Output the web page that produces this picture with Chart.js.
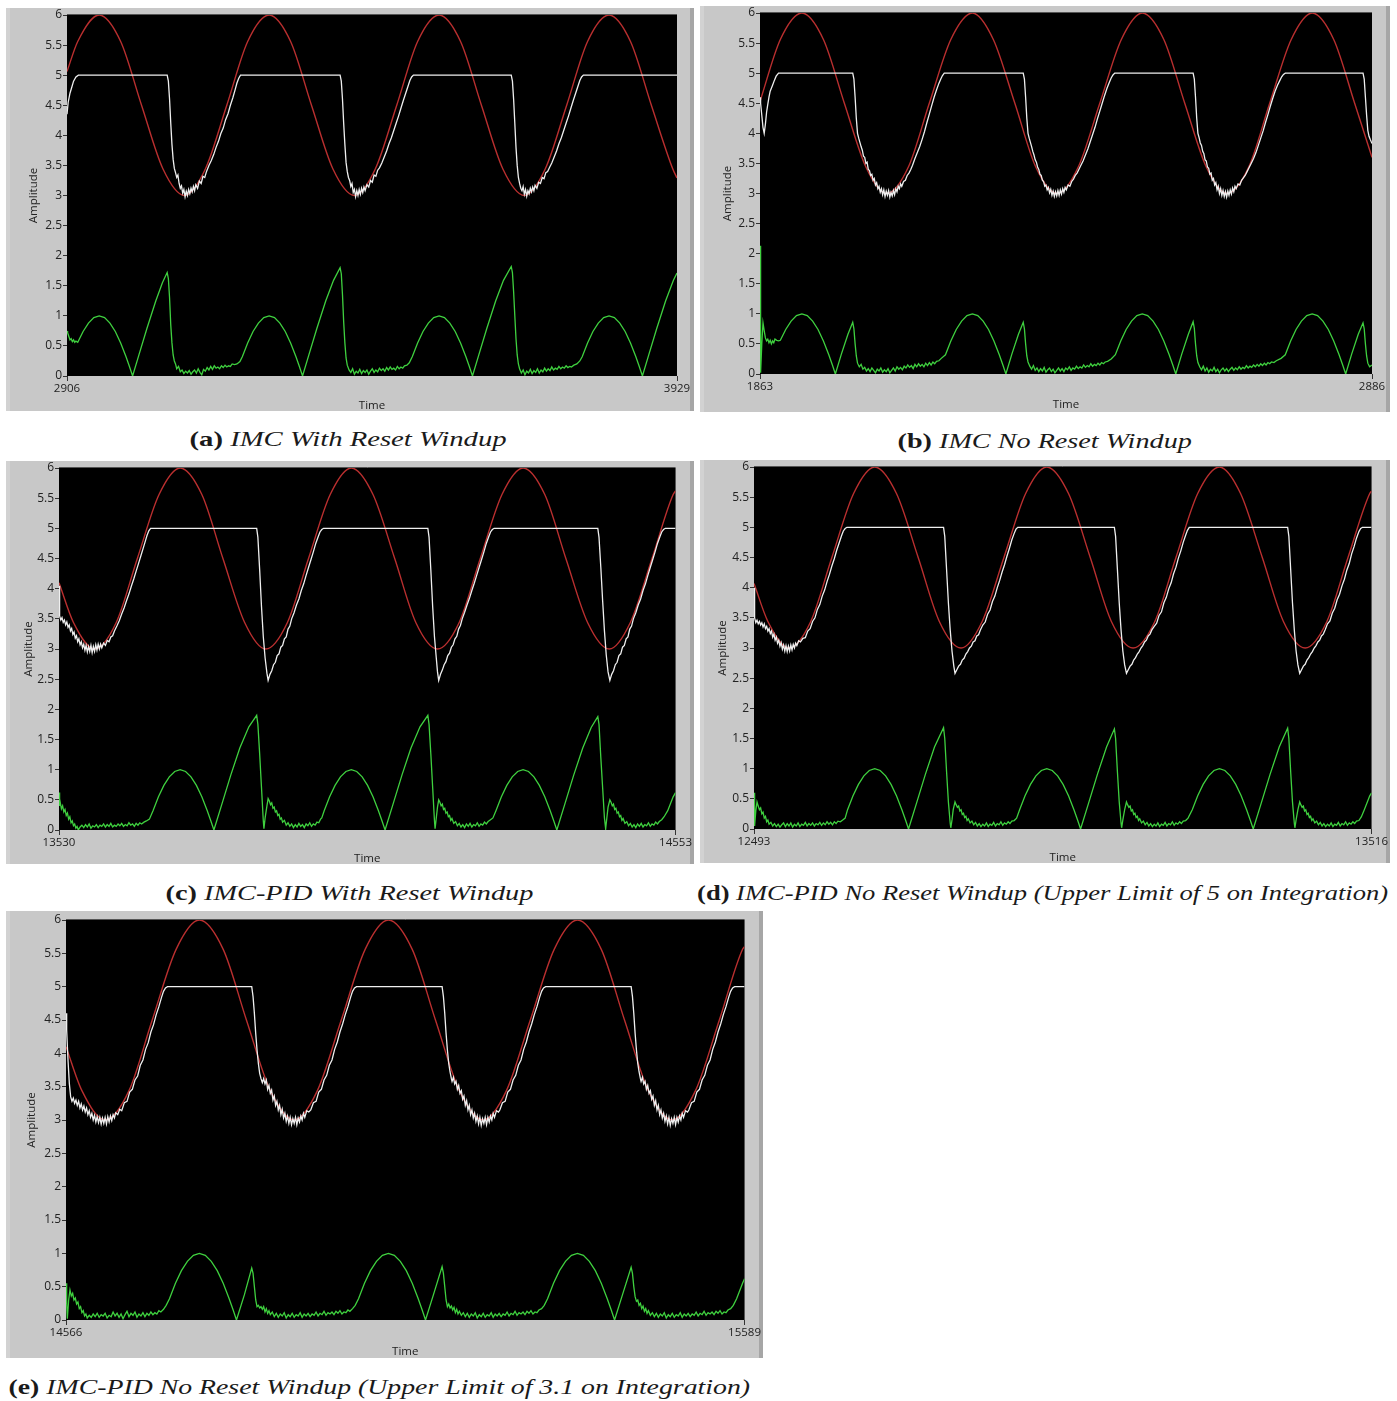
<!DOCTYPE html>
<html>
<head>
<meta charset="utf-8">
<script src="https://cdn.jsdelivr.net/npm/chart.js@4.4.1/dist/chart.umd.min.js"></script>
<style>
  body { margin: 0; background: #fff; width: 1397px; height: 1401px; position: relative; overflow: hidden; }
  .panel { position: absolute; }
  .panel canvas { display: block; }
  .cap { position: absolute; font-family: "Times New Roman", "Liberation Serif", serif; font-size: 21px; color: #1a1a1a; white-space: nowrap; transform-origin: center center; font-weight: 400; }
  .cap b { font-style: normal; font-weight: 700; }
  .cap i { font-style: italic; font-weight: 400; }
</style>
</head>
<body>
<script>
// ---- data: [time, amplitude] ----
const captionTags = ["(a)", "(b)", "(c)", "(d)", "(e)"];
const captionTexts = [
  "IMC With Reset Windup",
  "IMC No Reset Windup",
  "IMC-PID With Reset Windup",
  "IMC-PID No Reset Windup (Upper Limit of 5 on Integration)",
  "IMC-PID No Reset Windup (Upper Limit of 3.1 on Integration)"
];
const timeStart = [2906, 1863, 13530, 12493, 14566];
const timeEnd = [3929, 2886, 14553, 13516, 15589];
const ampMin = 0, ampMax = 6, ampStep = 0.5;

// (a) IMC with reset windup
const redA = [[2906,5.06],[2924,5.56],[2960,6],[2996,5.56],[3031,4.5],[3067,3.44],[3103,3],[3138,3.44],[3174,4.5],[3209,5.56],[3245,6],[3281,5.56],[3316,4.5],[3352,3.44],[3388,3],[3423,3.44],[3459,4.5],[3494,5.56],[3530,6],[3566,5.56],[3601,4.5],[3637,3.44],[3673,3],[3708,3.44],[3744,4.5],[3779,5.56],[3815,6],[3851,5.56],[3886,4.5],[3922,3.44],[3929,3.29]];
const whiteA = [[2906,4.35],[2908,4.55],[2911,4.7],[2914,4.8],[2917,4.9],[2921,4.97],[2925,5],
  [3074,5],[3076,4.9],[3078,4.6],[3080,4.2],[3082,3.85],[3084,3.6],[3086,3.45],[3088,3.38],[3090,3.3],[3092,3.34],[3094,3.2],[3096,3.12],[3098,3.16],[3100,3.04],[3102,3.1],[3104,2.98],[3106,3.07],[3108,3.0],[3110,3.1],[3112,3.03],[3114,3.12],[3116,3.06],[3118,3.15],[3120,3.08],[3122,3.18],[3125,3.12],[3128,3.24],[3131,3.2],[3134,3.32],[3137,3.3],[3140,3.4],[3144,3.5],[3148,3.58],[3152,3.68],[3156,3.8],[3160,3.9],[3164,4.03],[3168,4.12],[3172,4.26],[3176,4.36],[3180,4.5],[3184,4.62],[3188,4.76],[3191,4.87],[3194,4.95],[3197,5],
  [3364,5],[3366,4.9],[3368,4.6],[3370,4.2],[3372,3.85],[3374,3.55],[3376,3.4],[3378,3.3],[3380,3.25],[3382,3.15],[3384,3.2],[3386,3.05],[3388,3.1],[3390,2.98],[3392,3.08],[3394,3.0],[3396,3.1],[3398,3.02],[3400,3.12],[3402,3.05],[3404,3.14],[3406,3.08],[3409,3.18],[3412,3.14],[3415,3.25],[3418,3.22],[3421,3.34],[3424,3.32],[3427,3.42],[3430,3.46],[3434,3.54],[3438,3.64],[3442,3.74],[3446,3.86],[3450,3.96],[3454,4.08],[3458,4.2],[3462,4.32],[3466,4.45],[3470,4.58],[3474,4.7],[3478,4.82],[3481,4.91],[3484,4.97],[3487,5],
  [3651,5],[3653,4.9],[3655,4.6],[3657,4.2],[3659,3.8],[3661,3.5],[3663,3.3],[3665,3.2],[3667,3.12],[3669,3.08],[3671,3.15],[3673,3.02],[3675,3.1],[3677,2.99],[3679,3.08],[3681,3.03],[3683,3.12],[3685,3.06],[3687,3.14],[3689,3.08],[3691,3.17],[3694,3.12],[3697,3.22],[3700,3.2],[3703,3.3],[3706,3.28],[3709,3.38],[3712,3.4],[3715,3.46],[3719,3.54],[3723,3.64],[3727,3.74],[3731,3.86],[3735,3.96],[3739,4.08],[3743,4.2],[3747,4.32],[3751,4.45],[3755,4.58],[3759,4.7],[3763,4.82],[3766,4.91],[3769,4.97],[3772,5],[3929,5]];
const greenA = [[2906,0.75],[2907,0.72],[2909,0.66],[2911,0.6],[2913,0.62],[2915,0.57],[2917,0.6],[2919,0.56],[2921,0.58],[2924,0.56],
  [2933,0.74],[2942,0.88],[2951,0.97],[2960,1.0],[2969,0.97],[2978,0.88],[2987,0.74],[2996,0.55],[3005,0.32],[3011,0.15],[3016,0],
  [3026,0.33],[3040,0.79],[3055,1.25],[3066,1.55],[3074,1.72],[3076,1.62],[3078,1.3],[3080,0.85],[3082,0.55],[3084,0.35],[3086,0.25],[3088,0.2],
  [3090,0.12],[3093,0.16],[3096,0.07],[3099,0.1],[3102,0.04],[3105,0.08],[3108,0.05],[3111,0.09],[3114,0.03],[3117,0.07],[3120,0.1],[3123,0.05],[3126,0.12],[3129,0.06],[3132,0.02],[3135,0.11],[3138,0.08],[3141,0.14],[3144,0.1],[3147,0.16],[3150,0.11],[3153,0.17],[3156,0.13],[3159,0.15],[3162,0.12],[3165,0.17],[3168,0.14],[3171,0.18],[3174,0.15],[3177,0.17],[3180,0.16],[3183,0.2],[3187,0.19],
  [3191,0.2],[3196,0.24],[3200,0.32],[3209,0.55],[3218,0.74],[3227,0.88],[3236,0.97],[3245,1.0],[3254,0.97],[3263,0.88],[3272,0.74],[3281,0.55],[3290,0.32],[3296,0.15],[3301,0],
  [3311,0.33],[3325,0.79],[3340,1.25],[3353,1.59],[3364,1.8],[3366,1.7],[3368,1.35],[3370,0.9],[3372,0.55],[3374,0.3],[3376,0.18],
  [3379,0.1],[3382,0.06],[3385,0.12],[3388,0.03],[3391,0.08],[3394,0.05],[3397,0.11],[3400,0.04],[3403,0.09],[3406,0.06],[3409,0.1],[3412,0.03],[3415,0.08],[3418,0.12],[3421,0.06],[3424,0.1],[3427,0.07],[3430,0.13],[3433,0.09],[3436,0.12],[3439,0.08],[3442,0.14],[3445,0.1],[3448,0.15],[3451,0.11],[3454,0.13],[3457,0.1],[3460,0.16],[3463,0.12],[3466,0.15],[3469,0.13],[3472,0.17],[3476,0.18],
  [3480,0.22],[3485,0.32],[3494,0.55],[3503,0.74],[3512,0.88],[3521,0.97],[3530,1.0],[3539,0.97],[3548,0.88],[3557,0.74],[3566,0.55],[3575,0.32],[3581,0.15],[3586,0],
  [3596,0.33],[3610,0.79],[3625,1.25],[3638,1.59],[3651,1.82],[3653,1.72],[3655,1.4],[3657,1.0],[3659,0.62],[3661,0.35],[3663,0.2],[3665,0.12],
  [3668,0.05],[3671,0.1],[3674,0.02],[3677,0.08],[3680,0.05],[3683,0.11],[3686,0.04],[3689,0.09],[3692,0.06],[3695,0.12],[3698,0.05],[3701,0.1],[3704,0.07],[3707,0.13],[3710,0.08],[3713,0.12],[3716,0.09],[3719,0.15],[3722,0.1],[3725,0.13],[3728,0.11],[3731,0.16],[3734,0.12],[3737,0.15],[3740,0.13],[3743,0.17],[3746,0.14],[3749,0.16],[3752,0.15],[3756,0.18],[3761,0.2],
  [3766,0.25],[3770,0.32],[3779,0.55],[3788,0.74],[3797,0.88],[3806,0.97],[3815,1.0],[3824,0.97],[3833,0.88],[3842,0.74],[3851,0.55],[3860,0.32],[3866,0.15],[3871,0],
  [3881,0.33],[3895,0.79],[3910,1.25],[3923,1.59],[3929,1.71]];

// (b) IMC no reset windup
const redB = [[1863,4.53],[1897,5.56],[1933,6],[1969,5.56],[2004,4.5],[2040,3.44],[2075,3],[2111,3.44],[2146,4.5],[2182,5.56],[2218,6],[2253,5.56],[2289,4.5],[2324,3.44],[2360,3],[2395,3.44],[2431,4.5],[2467,5.56],[2502,6],[2538,5.56],[2573,4.5],[2609,3.44],[2644,3],[2680,3.44],[2715,4.5],[2751,5.56],[2786,6],[2822,5.56],[2857,4.5],[2886,3.6]];
const whiteB = [[1863,4.6],[1864,4.5],[1866,4.3],[1868,4.1],[1870,4.0],[1872,4.15],[1874,4.35],[1876,4.48],[1878,4.6],[1880,4.7],[1882,4.75],[1884,4.8],[1887,4.88],[1890,4.95],[1894,5],
  [2018,5],[2020,4.9],[2022,4.6],[2024,4.25],[2026,4.0],[2028,3.92],[2030,3.85],[2032,3.78],[2034,3.72],[2036,3.62],[2038,3.6],[2040,3.5],[2042,3.52],[2044,3.4],[2046,3.38],[2048,3.3],[2050,3.32],[2052,3.22],[2054,3.25],[2056,3.14],[2058,3.18],[2060,3.08],[2062,3.12],[2064,3.02],[2066,3.08],[2068,2.98],[2070,3.06],[2072,2.95],[2074,3.04],[2076,2.97],[2078,3.05],[2080,2.94],[2082,3.02],[2084,2.96],[2086,3.05],[2088,2.98],[2090,3.08],[2092,3.03],[2094,3.12],[2096,3.08],[2098,3.16],[2100,3.12],[2103,3.2],[2106,3.22],[2109,3.3],[2112,3.34],[2115,3.4],[2118,3.47],[2122,3.58],[2126,3.68],[2130,3.78],[2134,3.9],[2138,4.03],[2142,4.18],[2146,4.32],[2150,4.46],[2154,4.6],[2158,4.72],[2162,4.83],[2165,4.9],[2168,4.96],[2171,5],
  [2303,5],[2305,4.9],[2307,4.6],[2309,4.25],[2311,4.0],[2313,3.92],[2315,3.85],[2317,3.78],[2319,3.7],[2321,3.64],[2323,3.56],[2325,3.52],[2327,3.44],[2329,3.4],[2331,3.32],[2333,3.3],[2335,3.22],[2337,3.2],[2339,3.12],[2341,3.14],[2343,3.06],[2345,3.1],[2347,3.01],[2349,3.07],[2351,2.97],[2353,3.04],[2355,2.95],[2357,3.03],[2359,2.96],[2361,3.05],[2363,2.97],[2365,3.06],[2367,2.99],[2369,3.08],[2371,3.02],[2373,3.1],[2375,3.06],[2378,3.14],[2381,3.12],[2384,3.2],[2387,3.24],[2390,3.3],[2393,3.34],[2396,3.4],[2399,3.46],[2403,3.54],[2407,3.64],[2411,3.74],[2415,3.86],[2419,3.98],[2423,4.1],[2427,4.24],[2431,4.37],[2435,4.5],[2439,4.63],[2443,4.75],[2447,4.85],[2450,4.92],[2453,4.97],[2456,5],
  [2587,5],[2589,4.9],[2591,4.6],[2593,4.25],[2595,4.0],[2597,3.93],[2599,3.84],[2601,3.8],[2603,3.7],[2605,3.66],[2607,3.56],[2609,3.54],[2611,3.44],[2613,3.42],[2615,3.32],[2617,3.34],[2619,3.22],[2621,3.25],[2623,3.14],[2625,3.18],[2627,3.06],[2629,3.12],[2631,3.0],[2633,3.08],[2635,2.97],[2637,3.05],[2639,2.95],[2641,3.03],[2643,2.94],[2645,3.04],[2647,2.97],[2649,3.06],[2651,2.99],[2653,3.09],[2655,3.03],[2657,3.12],[2659,3.08],[2662,3.16],[2665,3.14],[2668,3.22],[2671,3.26],[2674,3.3],[2677,3.36],[2680,3.42],[2684,3.5],[2688,3.58],[2692,3.68],[2696,3.8],[2700,3.92],[2704,4.04],[2708,4.18],[2712,4.31],[2716,4.45],[2720,4.58],[2724,4.7],[2728,4.8],[2732,4.88],[2735,4.94],[2738,4.98],[2741,5],
  [2871,5],[2873,4.9],[2875,4.6],[2877,4.3],[2879,4.05],[2881,3.95],[2883,3.9],[2886,3.83]];
const greenB = [[1863,2.13],[1864,0.02],[1866,0.5],[1868,0.85],[1870,0.72],[1872,0.6],[1874,0.55],[1876,0.58],[1878,0.52],[1880,0.56],[1882,0.5],[1884,0.55],[1886,0.52],[1888,0.58],[1891,0.56],[1894,0.55],
  [1897,0.56],[1906,0.74],[1915,0.88],[1924,0.97],[1933,1.0],[1942,0.97],[1951,0.88],[1960,0.74],[1969,0.55],[1978,0.32],[1984,0.15],[1989,0],
  [1999,0.33],[2010,0.66],[2018,0.86],[2020,0.75],[2022,0.5],[2024,0.3],[2026,0.18],
  [2029,0.12],[2032,0.16],[2035,0.08],[2038,0.11],[2041,0.05],[2044,0.09],[2047,0.04],[2050,0.1],[2053,0.06],[2056,0.02],[2059,0.08],[2062,0.05],[2065,0.1],[2068,0.03],[2071,0.07],[2074,0.04],[2077,0.09],[2080,0.02],[2083,0.06],[2086,0.1],[2089,0.05],[2092,0.12],[2095,0.08],[2098,0.11],[2101,0.07],[2104,0.13],[2107,0.1],[2110,0.15],[2113,0.11],[2116,0.14],[2119,0.09],[2122,0.16],[2125,0.12],[2128,0.17],[2131,0.13],[2134,0.16],[2137,0.12],[2140,0.18],[2143,0.14],[2146,0.19],[2149,0.15],[2152,0.2],[2155,0.17],[2158,0.21],[2162,0.22],
  [2166,0.26],[2173,0.32],[2182,0.55],[2191,0.74],[2200,0.88],[2209,0.97],[2218,1.0],[2227,0.97],[2236,0.88],[2245,0.74],[2254,0.55],[2263,0.32],[2269,0.15],[2274,0],
  [2284,0.33],[2295,0.66],[2303,0.86],[2305,0.75],[2307,0.5],[2309,0.3],[2311,0.2],
  [2314,0.13],[2317,0.08],[2320,0.14],[2323,0.06],[2326,0.1],[2329,0.04],[2332,0.09],[2335,0.05],[2338,0.11],[2341,0.03],[2344,0.07],[2347,0.1],[2350,0.04],[2353,0.08],[2356,0.02],[2359,0.06],[2362,0.1],[2365,0.05],[2368,0.09],[2371,0.04],[2374,0.1],[2377,0.07],[2380,0.12],[2383,0.06],[2386,0.1],[2389,0.08],[2392,0.13],[2395,0.09],[2398,0.12],[2401,0.1],[2404,0.15],[2407,0.11],[2410,0.14],[2413,0.12],[2416,0.17],[2419,0.13],[2422,0.16],[2425,0.14],[2428,0.18],[2431,0.15],[2434,0.19],[2437,0.17],[2440,0.2],[2444,0.21],
  [2450,0.25],[2457,0.32],[2466,0.55],[2475,0.74],[2484,0.88],[2493,0.97],[2502,1.0],[2511,0.97],[2520,0.88],[2529,0.74],[2538,0.55],[2547,0.32],[2553,0.15],[2558,0],
  [2568,0.33],[2579,0.66],[2587,0.87],[2589,0.76],[2591,0.5],[2593,0.3],[2595,0.19],
  [2598,0.12],[2601,0.07],[2604,0.13],[2607,0.05],[2610,0.1],[2613,0.03],[2616,0.08],[2619,0.05],[2622,0.11],[2625,0.04],[2628,0.08],[2631,0.02],[2634,0.07],[2637,0.1],[2640,0.05],[2643,0.09],[2646,0.04],[2649,0.08],[2652,0.11],[2655,0.06],[2658,0.1],[2661,0.07],[2664,0.12],[2667,0.08],[2670,0.11],[2673,0.09],[2676,0.14],[2679,0.1],[2682,0.13],[2685,0.11],[2688,0.15],[2691,0.12],[2694,0.16],[2697,0.13],[2700,0.17],[2703,0.14],[2706,0.18],[2709,0.15],[2712,0.19],[2715,0.17],[2718,0.2],[2722,0.19],[2726,0.22],
  [2734,0.26],[2741,0.32],[2750,0.55],[2759,0.74],[2768,0.88],[2777,0.97],[2786,1.0],[2795,0.97],[2804,0.88],[2813,0.74],[2822,0.55],[2831,0.32],[2837,0.15],[2842,0],
  [2852,0.33],[2863,0.66],[2871,0.85],[2873,0.75],[2875,0.5],[2877,0.3],[2879,0.18],[2882,0.12],[2886,0.15]];

// (c) IMC-PID with reset windup
const redC = [[13530,4.1],[13554,3.44],[13589,3],[13625,3.44],[13660,4.5],[13696,5.56],[13731,6],[13767,5.56],[13802,4.5],[13838,3.44],[13873,3],[13909,3.44],[13944,4.5],[13980,5.56],[14015,6],[14051,5.56],[14087,4.5],[14122,3.44],[14158,3],[14194,3.44],[14229,4.5],[14265,5.56],[14300,6],[14336,5.56],[14371,4.5],[14407,3.44],[14443,3],[14478,3.44],[14514,4.5],[14549,5.56],[14553,5.62]];
const whiteC = [[13530,4.05],[13531,3.55],[13533,3.48],[13535,3.52],[13537,3.44],[13539,3.48],[13541,3.4],[13543,3.45],[13545,3.36],[13547,3.4],[13549,3.3],[13551,3.34],[13553,3.24],[13555,3.28],[13557,3.18],[13559,3.22],[13561,3.12],[13563,3.17],[13565,3.07],[13567,3.12],[13569,3.02],[13571,3.08],[13573,2.98],[13575,3.06],[13577,2.95],[13579,3.04],[13581,2.96],[13583,3.06],[13585,2.94],[13587,3.04],[13589,2.96],[13591,3.07],[13593,2.98],[13595,3.08],[13597,3.0],[13599,3.08],[13601,3.02],[13604,3.1],[13607,3.06],[13610,3.14],[13613,3.12],[13616,3.2],[13619,3.22],[13622,3.3],[13626,3.38],[13630,3.47],[13634,3.58],[13638,3.68],[13642,3.8],[13646,3.91],[13650,4.04],[13654,4.16],[13658,4.29],[13662,4.42],[13666,4.55],[13670,4.68],[13673,4.78],[13676,4.88],[13679,4.96],[13682,5],
  [13858,5],[13860,4.85],[13863,4.3],[13866,3.7],[13869,3.2],[13872,2.85],[13875,2.6],[13877,2.48],[13880,2.58],[13883,2.64],[13886,2.74],[13889,2.78],[13892,2.89],[13895,2.92],[13898,3.03],[13901,3.06],[13904,3.17],[13907,3.2],[13910,3.33],[13913,3.38],[13916,3.5],[13920,3.6],[13924,3.73],[13928,3.83],[13932,3.97],[13936,4.08],[13940,4.22],[13944,4.35],[13948,4.48],[13952,4.61],[13956,4.75],[13960,4.86],[13963,4.94],[13966,4.98],[13969,5],
  [14142,5],[14144,4.85],[14147,4.3],[14150,3.7],[14153,3.2],[14156,2.85],[14158,2.62],[14160,2.48],[14163,2.58],[14166,2.65],[14169,2.74],[14172,2.79],[14175,2.89],[14178,2.93],[14181,3.03],[14184,3.07],[14187,3.17],[14190,3.21],[14193,3.33],[14196,3.39],[14199,3.5],[14203,3.61],[14207,3.73],[14211,3.84],[14215,3.97],[14219,4.09],[14223,4.22],[14227,4.35],[14231,4.48],[14235,4.61],[14239,4.75],[14243,4.86],[14246,4.94],[14249,4.98],[14252,5],
  [14424,5],[14426,4.85],[14429,4.35],[14432,3.8],[14435,3.3],[14438,2.9],[14441,2.62],[14444,2.48],[14447,2.58],[14450,2.64],[14453,2.74],[14456,2.78],[14459,2.89],[14462,2.92],[14465,3.03],[14468,3.06],[14471,3.17],[14474,3.2],[14477,3.33],[14480,3.38],[14483,3.5],[14487,3.6],[14491,3.73],[14495,3.83],[14499,3.97],[14503,4.08],[14507,4.22],[14511,4.35],[14515,4.48],[14519,4.61],[14523,4.75],[14527,4.86],[14530,4.94],[14533,4.98],[14536,5],[14553,5]];
const greenC = [[13530,0.62],[13531,0.4],[13532,0.46],[13534,0.35],[13536,0.4],[13538,0.3],[13540,0.34],[13542,0.24],[13544,0.28],[13546,0.18],[13548,0.22],[13550,0.12],[13552,0.15],[13554,0.07],[13556,0.1],[13558,0.03],[13560,0.06],[13562,0.0],
  [13565,0.05],[13568,0.08],[13571,0.04],[13574,0.09],[13577,0.05],[13580,0.1],[13583,0.03],[13586,0.07],[13589,0.05],[13592,0.09],[13595,0.04],[13598,0.08],[13601,0.06],[13604,0.1],[13607,0.05],[13610,0.09],[13613,0.06],[13616,0.11],[13619,0.05],[13622,0.08],[13625,0.06],[13628,0.1],[13631,0.07],[13634,0.11],[13637,0.06],[13640,0.09],[13643,0.07],[13646,0.12],[13649,0.08],[13652,0.1],[13655,0.06],[13658,0.11],[13661,0.08],[13664,0.12],[13667,0.1],[13671,0.13],[13675,0.15],
  [13680,0.18],[13686,0.32],[13695,0.55],[13704,0.74],[13713,0.88],[13722,0.97],[13731,1.0],[13740,0.97],[13749,0.88],[13758,0.74],[13767,0.55],[13776,0.32],[13782,0.15],[13787,0],
  [13800,0.42],[13815,0.91],[13830,1.36],[13845,1.71],[13858,1.9],[13860,1.75],[13863,1.25],[13866,0.7],[13869,0.15],[13870,0.02],[13872,0.2],[13875,0.4],[13877,0.52],[13879,0.48],[13881,0.42],[13883,0.45],[13885,0.36],[13887,0.38],[13889,0.3],[13891,0.32],[13893,0.24],[13895,0.26],[13897,0.18],[13899,0.2],[13901,0.13],[13904,0.16],[13907,0.08],[13910,0.12],[13913,0.06],[13916,0.1],[13919,0.04],[13922,0.09],[13925,0.05],[13928,0.11],[13931,0.06],[13934,0.09],[13937,0.04],[13940,0.1],[13943,0.07],[13946,0.12],[13949,0.06],[13952,0.1],[13955,0.08],[13958,0.13],[13961,0.12],[13964,0.18],
  [13966,0.2],[13970,0.32],[13979,0.55],[13988,0.74],[13997,0.88],[14006,0.97],[14015,1.0],[14024,0.97],[14033,0.88],[14042,0.74],[14051,0.55],[14060,0.32],[14066,0.15],[14071,0],
  [14084,0.42],[14099,0.91],[14114,1.36],[14129,1.71],[14142,1.9],[14144,1.75],[14147,1.25],[14150,0.7],[14153,0.15],[14154,0.02],[14156,0.2],[14158,0.38],[14160,0.5],[14162,0.46],[14164,0.4],[14166,0.43],[14168,0.34],[14170,0.36],[14172,0.28],[14174,0.3],[14176,0.22],[14178,0.24],[14180,0.16],[14182,0.19],[14185,0.11],[14188,0.14],[14191,0.07],[14194,0.11],[14197,0.05],[14200,0.09],[14203,0.04],[14206,0.1],[14209,0.06],[14212,0.11],[14215,0.05],[14218,0.09],[14221,0.07],[14224,0.12],[14227,0.06],[14230,0.1],[14233,0.08],[14236,0.13],[14239,0.1],[14242,0.14],[14246,0.17],
  [14250,0.2],[14255,0.32],[14264,0.55],[14273,0.74],[14282,0.88],[14291,0.97],[14300,1.0],[14309,0.97],[14318,0.88],[14327,0.74],[14336,0.55],[14345,0.32],[14351,0.15],[14356,0],
  [14369,0.42],[14384,0.91],[14399,1.36],[14413,1.7],[14424,1.88],[14426,1.75],[14429,1.2],[14432,0.7],[14435,0.2],[14437,0.02],[14439,0.2],[14441,0.38],[14444,0.5],[14446,0.46],[14448,0.4],[14450,0.43],[14452,0.34],[14454,0.36],[14456,0.28],[14458,0.3],[14460,0.22],[14462,0.24],[14464,0.16],[14466,0.19],[14469,0.11],[14472,0.14],[14475,0.07],[14478,0.11],[14481,0.05],[14484,0.09],[14487,0.04],[14490,0.1],[14493,0.06],[14496,0.11],[14499,0.05],[14502,0.09],[14505,0.07],[14508,0.12],[14511,0.06],[14514,0.1],[14517,0.08],[14520,0.13],[14523,0.1],[14526,0.14],[14530,0.17],
  [14534,0.22],[14540,0.32],[14549,0.55],[14553,0.62]];

// (d) IMC-PID, upper limit of 5 on integration
const redD = [[12493,4.07],[12516,3.44],[12551,3],[12587,3.44],[12622,4.5],[12658,5.56],[12693,6],[12729,5.56],[12765,4.5],[12800,3.44],[12836,3],[12871,3.44],[12907,4.5],[12943,5.56],[12978,6],[13014,5.56],[13050,4.5],[13085,3.44],[13121,3],[13157,3.44],[13192,4.5],[13228,5.56],[13264,6],[13299,5.56],[13335,4.5],[13370,3.44],[13406,3],[13442,3.44],[13477,4.5],[13513,5.56],[13516,5.6]];
const whiteD = [[12493,4.0],[12494,3.5],[12496,3.42],[12498,3.46],[12500,3.4],[12502,3.44],[12504,3.38],[12506,3.42],[12508,3.35],[12510,3.4],[12512,3.32],[12514,3.36],[12516,3.28],[12518,3.32],[12520,3.24],[12522,3.28],[12524,3.18],[12526,3.23],[12528,3.13],[12530,3.18],[12532,3.08],[12534,3.13],[12536,3.03],[12538,3.09],[12540,2.98],[12542,3.05],[12544,2.95],[12546,3.04],[12548,2.94],[12550,3.03],[12552,2.95],[12554,3.05],[12556,2.97],[12558,3.06],[12560,3.0],[12562,3.08],[12564,3.04],[12567,3.12],[12570,3.1],
  [12574,3.16],[12578,3.17],[12582,3.28],[12586,3.32],[12590,3.44],[12594,3.5],[12598,3.64],[12602,3.72],[12606,3.86],[12610,3.96],[12614,4.1],[12618,4.22],[12622,4.36],[12626,4.48],[12630,4.62],[12634,4.74],[12638,4.86],[12641,4.94],[12644,4.98],[12647,5],
  [12807,5],[12809,4.85],[12812,4.3],[12815,3.75],[12818,3.3],[12821,2.95],[12824,2.7],[12826,2.58],[12829,2.64],[12832,2.7],[12835,2.73],[12838,2.8],[12841,2.83],[12844,2.9],[12847,2.94],[12850,3.0],[12853,3.03],[12856,3.1],[12859,3.12],[12862,3.2],[12865,3.22],[12868,3.3],
  [12872,3.38],[12876,3.43],[12880,3.56],[12884,3.63],[12888,3.77],[12892,3.86],[12896,4.0],[12900,4.12],[12904,4.26],[12908,4.38],[12912,4.52],[12916,4.65],[12920,4.79],[12924,4.9],[12927,4.97],[12930,5],
  [13090,5],[13092,4.85],[13095,4.3],[13098,3.75],[13101,3.3],[13104,2.95],[13107,2.72],[13110,2.58],[13113,2.64],[13116,2.7],[13119,2.73],[13122,2.8],[13125,2.84],[13128,2.9],[13131,2.94],[13134,3.0],[13137,3.04],[13140,3.1],[13143,3.13],[13146,3.2],[13149,3.23],[13152,3.3],
  [13156,3.36],[13160,3.41],[13164,3.54],[13168,3.6],[13172,3.75],[13176,3.84],[13180,3.98],[13184,4.08],[13188,4.23],[13192,4.34],[13196,4.49],[13200,4.61],[13204,4.75],[13208,4.87],[13211,4.95],[13214,5],
  [13377,5],[13379,4.85],[13382,4.3],[13385,3.75],[13388,3.3],[13391,2.95],[13394,2.72],[13397,2.58],[13400,2.64],[13403,2.7],[13406,2.73],[13409,2.8],[13412,2.84],[13415,2.9],[13418,2.94],[13421,3.0],[13424,3.04],[13427,3.1],[13430,3.13],[13433,3.2],[13436,3.23],[13439,3.3],
  [13443,3.4],[13447,3.45],[13451,3.58],[13455,3.66],[13459,3.8],[13463,3.89],[13467,4.03],[13471,4.14],[13475,4.29],[13479,4.4],[13483,4.56],[13487,4.68],[13491,4.82],[13495,4.93],[13498,4.98],[13501,5],[13516,5]];
const greenD = [[12493,0.6],[12494,0.05],[12496,0.3],[12498,0.45],[12500,0.38],[12502,0.32],[12504,0.35],[12506,0.25],[12508,0.28],[12510,0.18],[12512,0.21],[12514,0.12],[12516,0.15],[12518,0.08],[12521,0.11],[12524,0.05],[12527,0.09],
  [12530,0.04],[12533,0.08],[12536,0.03],[12539,0.07],[12542,0.1],[12545,0.04],[12548,0.09],[12551,0.05],[12554,0.1],[12557,0.03],[12560,0.08],[12563,0.05],[12566,0.1],[12569,0.04],[12572,0.08],[12575,0.06],[12578,0.11],[12581,0.05],[12584,0.09],[12587,0.06],[12590,0.1],[12593,0.05],[12596,0.09],[12599,0.07],[12602,0.11],[12605,0.06],[12608,0.1],[12611,0.07],[12614,0.12],[12617,0.08],[12620,0.11],[12623,0.07],[12626,0.12],[12629,0.09],[12632,0.13],[12636,0.12],[12640,0.15],[12644,0.18],
  [12648,0.32],[12657,0.55],[12666,0.74],[12675,0.88],[12684,0.97],[12693,1.0],[12702,0.97],[12711,0.88],[12720,0.74],[12729,0.55],[12738,0.32],[12744,0.15],[12749,0],
  [12762,0.42],[12777,0.91],[12792,1.36],[12807,1.68],[12809,1.5],[12812,0.95],[12815,0.45],[12818,0.1],[12819,0.02],[12821,0.15],[12823,0.32],[12826,0.45],[12828,0.4],[12830,0.36],[12832,0.38],[12834,0.3],[12836,0.32],[12838,0.24],[12840,0.26],[12842,0.19],[12844,0.21],[12846,0.14],[12848,0.17],[12851,0.1],[12854,0.13],[12857,0.07],[12860,0.11],[12863,0.05],[12866,0.09],[12869,0.04],[12872,0.08],[12875,0.05],[12878,0.1],[12881,0.04],[12884,0.08],[12887,0.06],[12890,0.11],[12893,0.05],[12896,0.09],[12899,0.07],[12902,0.12],[12905,0.06],[12908,0.1],[12911,0.08],[12914,0.12],[12917,0.09],[12920,0.13],[12924,0.14],[12928,0.18],
  [12933,0.32],[12942,0.55],[12951,0.74],[12960,0.88],[12969,0.97],[12978,1.0],[12987,0.97],[12996,0.88],[13005,0.74],[13014,0.55],[13023,0.32],[13029,0.15],[13034,0],
  [13047,0.42],[13062,0.91],[13077,1.36],[13090,1.66],[13092,1.5],[13095,0.95],[13098,0.45],[13101,0.1],[13102,0.02],[13104,0.15],[13107,0.32],[13110,0.45],[13112,0.4],[13114,0.36],[13116,0.38],[13118,0.3],[13120,0.32],[13122,0.24],[13124,0.26],[13126,0.19],[13128,0.21],[13130,0.14],[13132,0.17],[13135,0.1],[13138,0.13],[13141,0.07],[13144,0.11],[13147,0.05],[13150,0.09],[13153,0.04],[13156,0.08],[13159,0.05],[13162,0.1],[13165,0.04],[13168,0.08],[13171,0.06],[13174,0.11],[13177,0.05],[13180,0.09],[13183,0.07],[13186,0.12],[13189,0.06],[13192,0.1],[13195,0.08],[13198,0.12],[13201,0.09],[13204,0.13],[13208,0.14],[13212,0.18],
  [13219,0.32],[13228,0.55],[13237,0.74],[13246,0.88],[13255,0.97],[13264,1.0],[13273,0.97],[13282,0.88],[13291,0.74],[13300,0.55],[13309,0.32],[13315,0.15],[13320,0],
  [13333,0.42],[13348,0.91],[13363,1.36],[13377,1.67],[13379,1.5],[13382,0.95],[13385,0.45],[13388,0.1],[13389,0.02],[13391,0.15],[13394,0.32],[13397,0.45],[13399,0.4],[13401,0.36],[13403,0.38],[13405,0.3],[13407,0.32],[13409,0.24],[13411,0.26],[13413,0.19],[13415,0.21],[13417,0.14],[13419,0.17],[13422,0.1],[13425,0.13],[13428,0.07],[13431,0.11],[13434,0.05],[13437,0.09],[13440,0.04],[13443,0.08],[13446,0.05],[13449,0.1],[13452,0.04],[13455,0.08],[13458,0.06],[13461,0.11],[13464,0.05],[13467,0.09],[13470,0.07],[13473,0.12],[13476,0.06],[13479,0.1],[13482,0.08],[13485,0.12],[13488,0.09],[13491,0.13],[13495,0.14],[13499,0.2],
  [13504,0.32],[13513,0.55],[13516,0.6]];

// (e) IMC-PID, upper limit of 3.1 on integration
const redE = [[14566,4.1],[14590,3.44],[14625,3],[14661,3.44],[14696,4.5],[14732,5.56],[14767,6],[14803,5.56],[14838,4.5],[14874,3.44],[14910,3],[14945,3.44],[14981,4.5],[15017,5.56],[15052,6],[15088,5.56],[15123,4.5],[15159,3.44],[15195,3],[15230,3.44],[15266,4.5],[15302,5.56],[15337,6],[15373,5.56],[15408,4.5],[15444,3.44],[15480,3],[15515,3.44],[15551,4.5],[15586,5.56],[15589,5.6]];
const whiteE = [[14566,4.6],[14567,4.35],[14569,3.9],[14571,3.55],[14573,3.35],[14575,3.28],[14577,3.33],[14579,3.25],[14581,3.3],[14583,3.22],[14585,3.28],[14587,3.18],[14589,3.24],[14591,3.15],[14593,3.21],[14595,3.12],[14597,3.18],[14599,3.08],[14601,3.14],[14603,3.04],[14605,3.1],[14607,3.0],[14609,3.07],[14611,2.97],[14613,3.05],[14615,2.96],[14617,3.04],[14619,2.94],[14621,3.03],[14623,2.95],[14625,3.04],[14627,2.94],[14629,3.05],[14631,2.97],[14633,3.06],[14635,2.99],[14637,3.08],[14639,3.03],[14641,3.11],[14644,3.08],[14647,3.16],
  [14650,3.14],[14654,3.26],[14658,3.28],[14662,3.42],[14666,3.46],[14670,3.6],[14674,3.66],[14678,3.82],[14682,3.9],[14686,4.06],[14690,4.16],[14694,4.32],[14698,4.43],[14702,4.58],[14706,4.7],[14710,4.84],[14713,4.93],[14716,4.98],[14719,5],
  [14846,5],[14848,4.85],[14850,4.6],[14852,4.3],[14854,4.05],[14856,3.85],[14858,3.7],[14860,3.62],[14862,3.56],[14864,3.62],[14866,3.54],[14868,3.6],[14870,3.46],[14872,3.52],[14874,3.4],[14876,3.45],[14878,3.3],[14880,3.36],[14882,3.22],[14884,3.28],[14886,3.15],[14888,3.22],[14890,3.08],[14892,3.16],[14894,3.03],[14896,3.1],[14898,2.98],[14900,3.06],[14902,2.95],[14904,3.04],[14906,2.93],[14908,3.02],[14910,2.95],[14912,3.04],[14914,2.93],[14916,3.03],[14918,2.97],[14920,3.06],[14922,3.0],[14924,3.1],[14926,3.04],[14929,3.14],[14932,3.12],
  [14935,3.15],[14939,3.26],[14943,3.28],[14947,3.42],[14951,3.46],[14955,3.6],[14959,3.67],[14963,3.82],[14967,3.9],[14971,4.06],[14975,4.17],[14979,4.32],[14983,4.44],[14987,4.58],[14991,4.7],[14995,4.84],[14998,4.93],[15001,4.98],[15004,5],
  [15133,5],[15135,4.85],[15137,4.6],[15139,4.3],[15141,4.05],[15143,3.85],[15145,3.72],[15147,3.62],[15148,3.58],[15150,3.64],[15152,3.54],[15154,3.58],[15156,3.46],[15158,3.52],[15160,3.4],[15162,3.44],[15164,3.31],[15166,3.36],[15168,3.22],[15170,3.29],[15172,3.15],[15174,3.22],[15176,3.08],[15178,3.15],[15180,3.03],[15182,3.1],[15184,2.98],[15186,3.06],[15188,2.94],[15190,3.04],[15192,2.92],[15194,3.02],[15196,2.95],[15198,3.04],[15200,2.93],[15202,3.04],[15204,2.97],[15206,3.06],[15208,3.0],[15210,3.1],[15212,3.04],[15215,3.14],[15218,3.12],
  [15220,3.15],[15224,3.26],[15228,3.28],[15232,3.42],[15236,3.46],[15240,3.6],[15244,3.67],[15248,3.82],[15252,3.9],[15256,4.06],[15260,4.17],[15264,4.32],[15268,4.44],[15272,4.58],[15276,4.7],[15280,4.84],[15283,4.93],[15286,4.98],[15289,5],
  [15418,5],[15420,4.85],[15422,4.6],[15424,4.3],[15426,4.05],[15428,3.85],[15430,3.72],[15432,3.62],[15433,3.58],[15435,3.64],[15437,3.54],[15439,3.58],[15441,3.46],[15443,3.52],[15445,3.4],[15447,3.44],[15449,3.31],[15451,3.36],[15453,3.22],[15455,3.29],[15457,3.15],[15459,3.22],[15461,3.08],[15463,3.15],[15465,3.03],[15467,3.1],[15469,2.98],[15471,3.06],[15473,2.94],[15475,3.04],[15477,2.92],[15479,3.02],[15481,2.95],[15483,3.04],[15485,2.93],[15487,3.04],[15489,2.97],[15491,3.06],[15493,3.0],[15495,3.1],[15497,3.04],[15500,3.14],[15503,3.12],
  [15505,3.15],[15509,3.26],[15513,3.28],[15517,3.42],[15521,3.46],[15525,3.6],[15529,3.67],[15533,3.82],[15537,3.9],[15541,4.06],[15545,4.17],[15549,4.32],[15553,4.44],[15557,4.58],[15561,4.7],[15565,4.84],[15568,4.93],[15571,4.98],[15574,5],[15589,5]];
const greenE = [[14566,0.55],[14567,0.25],[14568,0.02],[14570,0.3],[14572,0.45],[14574,0.36],[14576,0.4],[14578,0.3],[14580,0.33],[14582,0.24],[14584,0.27],[14586,0.17],[14588,0.2],[14590,0.11],[14592,0.14],[14594,0.06],[14596,0.09],[14598,0.03],
  [14601,0.07],[14604,0.04],[14607,0.09],[14610,0.05],[14613,0.1],[14616,0.04],[14619,0.08],[14622,0.06],[14625,0.1],[14628,0.03],[14631,0.07],[14634,0.05],[14637,0.12],[14640,0.06],[14643,0.1],[14646,0.04],[14649,0.09],[14652,0.02],[14655,0.08],[14658,0.13],[14661,0.05],[14664,0.1],[14667,0.07],[14670,0.12],[14673,0.04],[14676,0.09],[14679,0.06],[14682,0.11],[14685,0.05],[14688,0.1],[14691,0.07],[14694,0.12],[14697,0.08],[14700,0.11],[14703,0.09],[14706,0.14],[14709,0.12],[14713,0.16],
  [14717,0.22],[14722,0.32],[14731,0.55],[14740,0.74],[14749,0.88],[14758,0.97],[14767,1.0],[14776,0.97],[14785,0.88],[14794,0.74],[14803,0.55],[14812,0.32],[14818,0.15],[14823,0],
  [14835,0.38],[14846,0.78],[14848,0.7],[14850,0.5],[14852,0.3],[14854,0.2],[14856,0.22],[14858,0.18],[14860,0.2],
  [14862,0.16],[14864,0.2],[14866,0.12],[14868,0.17],[14870,0.1],[14872,0.14],[14874,0.08],[14877,0.12],[14880,0.05],[14883,0.1],[14886,0.04],[14889,0.09],[14892,0.06],[14895,0.11],[14898,0.03],[14901,0.08],[14904,0.05],[14907,0.1],[14910,0.04],[14913,0.08],[14916,0.06],[14919,0.11],[14922,0.04],[14925,0.09],[14928,0.06],[14931,0.1],[14934,0.05],[14937,0.09],[14940,0.07],[14943,0.12],[14946,0.06],[14949,0.1],[14952,0.08],[14955,0.13],[14958,0.07],[14961,0.11],[14964,0.09],[14967,0.12],[14970,0.08],[14973,0.13],[14976,0.1],[14979,0.14],[14982,0.09],[14985,0.12],[14988,0.11],[14991,0.15],[14994,0.13],[14998,0.17],
  [15002,0.22],[15007,0.32],[15016,0.55],[15025,0.74],[15034,0.88],[15043,0.97],[15052,1.0],[15061,0.97],[15070,0.88],[15079,0.74],[15088,0.55],[15097,0.32],[15103,0.15],[15108,0],
  [15120,0.38],[15133,0.8],[15135,0.7],[15137,0.5],[15139,0.3],[15141,0.2],[15143,0.24],[15145,0.18],[15147,0.21],
  [15149,0.15],[15151,0.19],[15153,0.11],[15155,0.16],[15157,0.09],[15159,0.13],[15162,0.07],[15165,0.11],[15168,0.05],[15171,0.1],[15174,0.04],[15177,0.09],[15180,0.06],[15183,0.11],[15186,0.03],[15189,0.08],[15192,0.05],[15195,0.1],[15198,0.04],[15201,0.08],[15204,0.06],[15207,0.11],[15210,0.04],[15213,0.09],[15216,0.06],[15219,0.1],[15222,0.05],[15225,0.09],[15228,0.07],[15231,0.12],[15234,0.06],[15237,0.1],[15240,0.08],[15243,0.13],[15246,0.07],[15249,0.11],[15252,0.09],[15255,0.12],[15258,0.08],[15261,0.13],[15264,0.1],[15267,0.14],[15270,0.09],[15273,0.12],[15276,0.11],[15279,0.15],[15283,0.17],
  [15287,0.22],[15292,0.32],[15301,0.55],[15310,0.74],[15319,0.88],[15328,0.97],[15337,1.0],[15346,0.97],[15355,0.88],[15364,0.74],[15373,0.55],[15382,0.32],[15388,0.15],[15393,0],
  [15405,0.38],[15418,0.79],[15420,0.7],[15422,0.5],[15424,0.35],[15426,0.28],[15428,0.3],[15430,0.22],[15432,0.25],
  [15434,0.17],[15436,0.21],[15438,0.13],[15440,0.17],[15442,0.1],[15444,0.14],[15447,0.07],[15450,0.11],[15453,0.05],[15456,0.1],[15459,0.04],[15462,0.09],[15465,0.06],[15468,0.11],[15471,0.03],[15474,0.08],[15477,0.05],[15480,0.1],[15483,0.04],[15486,0.08],[15489,0.06],[15492,0.11],[15495,0.04],[15498,0.09],[15501,0.06],[15504,0.1],[15507,0.05],[15510,0.09],[15513,0.07],[15516,0.12],[15519,0.06],[15522,0.1],[15525,0.08],[15528,0.13],[15531,0.07],[15534,0.11],[15537,0.09],[15540,0.12],[15543,0.08],[15546,0.13],[15549,0.1],[15552,0.14],[15555,0.09],[15558,0.12],[15561,0.11],[15564,0.15],[15568,0.17],
  [15572,0.22],[15577,0.32],[15586,0.55],[15589,0.62]];

const redSeries = [redA, redB, redC, redD, redE];
const whiteSeries = [whiteA, whiteB, whiteC, whiteD, whiteE];
const greenSeries = [greenA, greenB, greenC, greenD, greenE];

// ---- layout (page pixels) ----
const frames = [
  { left: 6,   top: 8,   w: 688, h: 403, pl: 61, pt: 6, pr: 17, pb: 35, ampX: 22, timeB: 0 },
  { left: 700, top: 6,   w: 690, h: 406, pl: 60, pt: 5, pr: 18, pb: 38, ampX: 22, timeB: 1.5 },
  { left: 6,   top: 461, w: 688, h: 403, pl: 53, pt: 6, pr: 18, pb: 34, ampX: 17, timeB: 0 },
  { left: 700, top: 460, w: 690, h: 403, pl: 54, pt: 6, pr: 18, pb: 34, ampX: 17, timeB: 0 },
  { left: 6,   top: 911, w: 757, h: 447, pl: 60, pt: 9, pr: 15, pb: 38, ampX: 20, timeB: 0.5 }
];
const capPos = [
  { cx: 348, cy: 439, w: 317 },
  { cx: 1044, cy: 441, w: 294 },
  { cx: 349, cy: 893, w: 368 },
  { cx: 1042, cy: 893, w: 691 },
  { cx: 379, cy: 1387, w: 742 }
];

const uiFont = "'Open Sans', 'DejaVu Sans', sans-serif";

// gray LabVIEW frame with black plot area
const framePlugin = {
  id: "lvFrame",
  beforeDraw(chart) {
    const { ctx, width, height, chartArea: a } = chart;
    ctx.save();
    ctx.fillStyle = "#c8c8c8";
    ctx.fillRect(0, 0, width, height);
    ctx.fillStyle = "#d2d2d2";
    ctx.fillRect(0, 0, 4, height);
    ctx.fillStyle = "#a6a6a6";
    ctx.fillRect(width - 4, 0, 4, height);
    ctx.fillStyle = "#000";
    ctx.fillRect(a.left, a.top, a.right - a.left, a.bottom - a.top);
    ctx.strokeStyle = "#555";
    ctx.lineWidth = 1;
    ctx.beginPath();
    ctx.moveTo(a.left, a.top - 0.5);
    ctx.lineTo(a.right, a.top - 0.5);
    ctx.stroke();
    ctx.restore();
  }
};

function toPoints(arr) {
  return arr.map(([x, y]) => ({ x, y }));
}

frames.forEach((f, i) => {
  const box = document.createElement("div");
  box.className = "panel";
  box.style.left = f.left + "px";
  box.style.top = f.top + "px";
  const cv = document.createElement("canvas");
  cv.width = f.w;
  cv.height = f.h;
  cv.style.width = f.w + "px";
  cv.style.height = f.h + "px";
  box.appendChild(cv);
  document.body.appendChild(box);

  const t0 = timeStart[i], t1 = timeEnd[i];
  new Chart(cv, {
    type: "line",
    data: {
      datasets: [
        { data: toPoints(whiteSeries[i]), borderColor: "#efefef", borderWidth: 1.3, pointRadius: 0, tension: 0 },
        { data: toPoints(redSeries[i]), borderColor: "#b92f2f", borderWidth: 1.4, pointRadius: 0, cubicInterpolationMode: "monotone" },
        { data: toPoints(greenSeries[i]), borderColor: "#3fd03f", borderWidth: 1.3, pointRadius: 0, tension: 0 }
      ]
    },
    options: {
      responsive: false,
      animation: false,
      events: [],
      layout: { padding: { left: 0, top: f.pt, right: f.pr, bottom: 0 } },
      plugins: { legend: { display: false }, tooltip: { enabled: false } },
      scales: {
        x: {
          type: "linear",
          min: t0,
          max: t1,
          afterBuildTicks: (s) => { s.ticks = [{ value: t0 }, { value: t1 }]; },
          afterFit: (s) => { s.height = f.pb; },
          grid: { drawOnChartArea: false, drawTicks: true, tickLength: 5, color: "#333" },
          border: { display: false },
          ticks: {
            autoSkip: false, maxRotation: 0, padding: 2, color: "#222",
            font: { family: uiFont, size: 11.5, lineHeight: 1 },
            callback: (v) => String(v)
          },
          title: {
            display: true, text: "Time", color: "#222",
            font: { family: uiFont, size: 11.5, lineHeight: 1 },
            padding: { top: 0, bottom: f.timeB }
          }
        },
        y: {
          min: ampMin,
          max: ampMax,
          afterFit: (s) => { s.width = f.pl; },
          grid: { drawOnChartArea: false, drawTicks: true, tickLength: 4, color: "#333" },
          border: { display: false },
          ticks: {
            stepSize: ampStep, autoSkip: false, padding: 1, color: "#222",
            font: { family: uiFont, size: 12, lineHeight: 1 },
            callback: (v) => String(v)
          },
          title: {
            display: true, text: "Amplitude", color: "#222",
            font: { family: uiFont, size: 11.5, lineHeight: 1 },
            padding: { top: f.ampX, bottom: 0 }
          }
        }
      }
    },
    plugins: [framePlugin]
  });
});

// captions below each graph
captionTexts.forEach((txt, i) => {
  const el = document.createElement("div");
  el.className = "cap";
  el.innerHTML = "<b>" + captionTags[i] + "</b> <i>" + txt + "</i>";
  document.body.appendChild(el);
  const w = el.offsetWidth, h = el.offsetHeight;
  const p = capPos[i];
  el.style.left = (p.cx - w / 2) + "px";
  el.style.top = (p.cy - h / 2) + "px";
  el.style.transform = "scaleX(" + (p.w / w).toFixed(3) + ")";
});
</script>
</body>
</html>
